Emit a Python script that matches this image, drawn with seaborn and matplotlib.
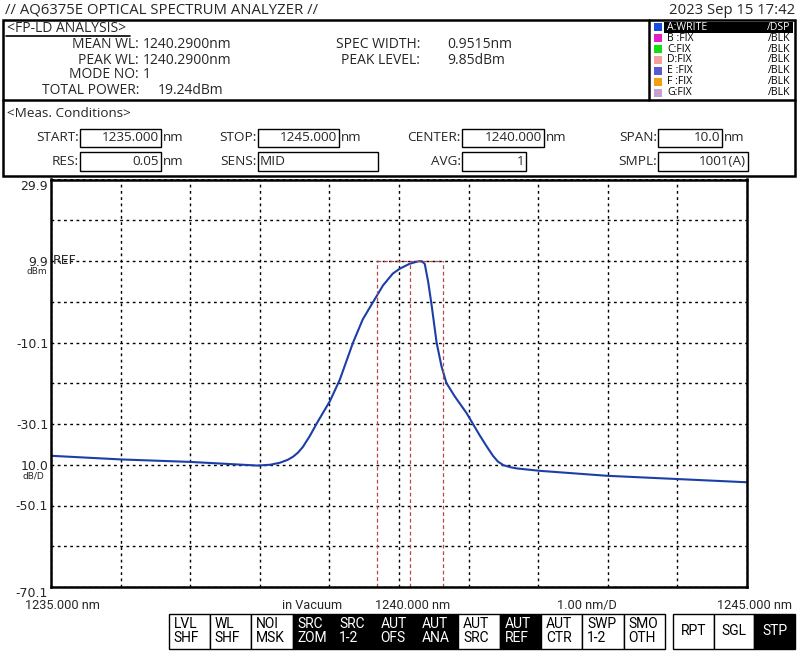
import matplotlib
matplotlib.use("Agg")
import matplotlib.pyplot as plt
from matplotlib.patches import Rectangle
import seaborn as sns

sns.set_style("white")
plt.rcParams["font.family"] = ["Open Sans", "DejaVu Sans"]

# spectrum trace
wl_nm = [1235.00, 1236.01, 1237.00, 1237.86, 1237.97, 1238.15, 1238.29, 1238.40,
         1238.48, 1238.55, 1238.62, 1238.72, 1238.82, 1238.92, 1239.01, 1239.15,
         1239.34, 1239.48, 1239.63, 1239.77, 1239.91, 1240.01, 1240.15, 1240.23,
         1240.29, 1240.33, 1240.37, 1240.42, 1240.47, 1240.54, 1240.61, 1240.68,
         1240.80, 1240.97, 1241.06, 1241.16, 1241.26, 1241.35, 1241.42, 1241.50,
         1241.60, 1241.69, 1242.03, 1242.98, 1243.99, 1245.00]
level_dbm = [-37.9, -38.8, -39.4, -40.2, -40.3, -40.1, -39.6, -38.9,
             -38.1, -37.1, -35.7, -33.0, -29.9, -27.0, -24.4, -19.2,
             -10.1, -4.4, -0.1, 3.9, 6.8, 8.0, 9.2, 9.6,
             9.85, 9.8, 9.2, 4.7, -1.1, -10.1, -15.9, -20.0,
             -23.3, -27.4, -30.0, -32.9, -35.6, -37.9, -39.3, -40.2,
             -40.7, -41.0, -41.6, -42.8, -43.6, -44.4]

# analysis markers
marker_wl = [1239.68, 1240.155, 1240.63]
peak_level = 9.85

# axis scale
x_grid = [1235, 1236, 1237, 1238, 1239, 1240, 1241, 1242, 1243, 1244, 1245]
y_grid = [29.9, 19.9, 9.9, -0.1, -10.1, -20.1, -30.1, -40.1, -50.1, -60.1, -70.1]
y_labels = ["29.9", "", "9.9", "", "-10.1", "", "-30.1", "10.0", "-50.1", "", "-70.1"]

# header texts
fp_labels = ["MEAN WL:", "PEAK WL:", "MODE NO:", "TOTAL POWER:"]
fp_values = ["1240.2900nm", "1240.2900nm", "1", "19.24dBm"]
fp2_labels = ["SPEC WIDTH:", "PEAK LEVEL:"]
fp2_values = ["0.9515nm", "9.85dBm"]

trace_names = ["A:WRITE", "B :FIX", "C:FIX", "D:FIX", "E :FIX", "F :FIX", "G:FIX"]
trace_modes = ["/DSP", "/BLK", "/BLK", "/BLK", "/BLK", "/BLK", "/BLK"]
trace_colors = ["#1450e0", "#e020c0", "#10e010", "#f0a0a0", "#5a5ad0", "#f0a010", "#c8a0d0"]

# label, value, unit, box left, box right, row
meas = [("START:", "1235.000", "nm", 80, 161, 0),
        ("STOP:", "1245.000", "nm", 258, 339, 0),
        ("CENTER:", "1240.000", "nm", 462, 544, 0),
        ("SPAN:", "10.0", "nm", 658, 722, 0),
        ("RES:", "0.05", "nm", 80, 161, 1),
        ("SENS:", "MID", "", 258, 378, 1),
        ("AVG:", "1", "", 462, 526, 1),
        ("SMPL:", "1001(A)", "", 658, 748, 1)]

soft_keys = [("LVL", "SHF"), ("WL", "SHF"), ("NOI", "MSK"), ("SRC", "ZOM"), ("SRC", "1-2"),
             ("AUT", "OFS"), ("AUT", "ANA"), ("AUT", "SRC"), ("AUT", "REF"), ("AUT", "CTR"),
             ("SWP", "1-2"), ("SMO", "OTH")]
soft_active = [False, False, False, True, True, True, True, False, True, False, False, False]
sweep_keys = ["RPT", "SGL", "STP"]
sweep_active = [False, False, True]

narrow = ["Roboto", "DejaVu Sans"]

fig = plt.figure(figsize=(8, 6.51), dpi=100)

# overlay in pixel coordinates for the instrument screen furniture
ov = fig.add_axes([0, 0, 1, 1], zorder=0)
ov.set_xlim(0, 800)
ov.set_ylim(651, 0)
ov.axis("off")

ov.text(5, 10, "// AQ6375E OPTICAL SPECTRUM ANALYZER //", fontsize=10.7, va="center")
ov.text(795, 10, "2023 Sep 15 17:42", fontsize=10.7, va="center", ha="right")

ov.add_patch(Rectangle((3, 19.5), 792, 156, fill=False, lw=1.8, ec="black"))
ov.plot([3, 795], [100, 100], color="black", lw=1.8)
ov.plot([649, 649], [19.5, 100], color="black", lw=1.8)

ov.text(7, 28, "<FP-LD ANALYSIS>", fontsize=10, va="center")
ov.plot([6, 130], [35.5, 35.5], color="black", lw=1.2)
for i, (lab, val) in enumerate(zip(fp_labels, fp_values)):
    y = 45 + 15 * i
    ov.text(139, y, lab, fontsize=10, va="center", ha="right")
    ov.text(158 if i == 3 else 143, y, val, fontsize=10, va="center")
for i, (lab, val) in enumerate(zip(fp2_labels, fp2_values)):
    y = 45 + 15 * i
    ov.text(420, y, lab, fontsize=10, va="center", ha="right")
    ov.text(447, y, val, fontsize=10, va="center")

for i, (name, mode, col) in enumerate(zip(trace_names, trace_modes, trace_colors)):
    y = 27.3 + 10.9 * i
    ov.add_patch(Rectangle((654, y - 4), 8, 8, color=col, lw=0))
    tc = "black"
    if i == 0:
        ov.add_patch(Rectangle((664, y - 5.2), 128.5, 10.4, color="black", lw=0))
        tc = "white"
    ov.text(667, y, name, fontsize=7.6, va="center", color=tc)
    ov.text(790, y, mode, fontsize=7.6, va="center", ha="right", color=tc)

ov.text(7, 113.5, "<Meas. Conditions>", fontsize=9.7, va="center")
for lab, val, unit, x0, x1, row in meas:
    y0 = 128.5 if row == 0 else 152
    yc = y0 + 9.3
    ov.add_patch(Rectangle((x0, y0), x1 - x0, 18.6, fill=False, lw=1.0, ec="black"))
    ov.text(x0 - 1, yc, lab, fontsize=9.7, va="center", ha="right")
    if lab == "SENS:":
        ov.text(x0 + 2, yc, val, fontsize=9.7, va="center")
    else:
        ov.text(x1 - 2, yc, val, fontsize=9.7, va="center", ha="right")
    if unit:
        ov.text(x1 + 2, yc, unit, fontsize=9.7, va="center")

# spectrum display
ax = fig.add_axes([51 / 800, 1 - 587 / 651, 696 / 800, 407.5 / 651], zorder=1)
ax.set_facecolor("white")
sns.lineplot(x=wl_nm, y=level_dbm, ax=ax, color="#1c3ea8", lw=1.5, sort=False)

for w in marker_wl:
    ax.plot([w, w], [y_grid[-1], peak_level], color="#b84848", lw=0.9, ls=(0, (3, 2.2)))
ax.plot([marker_wl[0], marker_wl[-1]], [peak_level, peak_level], color="#b84848", lw=0.9,
        ls=(0, (3, 2.2)))

ax.set_xlim(x_grid[0], x_grid[-1])
ax.set_ylim(y_grid[-1], y_grid[0])
ax.set_xticks(x_grid)
ax.set_xticklabels([])
ax.set_yticks(y_grid)
ax.set_yticklabels(y_labels, fontsize=9, family=["DejaVu Sans"])
ax.tick_params(length=0, pad=2)
yt = ax.get_yticklabels()
yt[0].set_va("top")
yt[-1].set_va("top")
ax.grid(True, color="black", lw=1.0, ls=(0, (2, 2.5)))
for s in ax.spines.values():
    s.set_visible(True)
    s.set_color("black")
    s.set_linewidth(1.8)

ax.text(0.003, 9.9, "REF", fontsize=9, va="center", family=["DejaVu Sans"],
        transform=ax.get_yaxis_transform())
ov.text(47, 272, "dBm", fontsize=6.5, va="center", ha="right", family=["DejaVu Sans"])
ov.text(44, 476, "dB/D", fontsize=6.5, va="center", ha="right", family=["DejaVu Sans"])

ov.text(25, 605.5, "1235.000 nm", fontsize=9.2, va="center", family=narrow)
ov.text(282, 605.5, "in Vacuum", fontsize=9.2, va="center", family=narrow)
ov.text(375, 605.5, "1240.000 nm", fontsize=9.2, va="center", family=narrow)
ov.text(557, 605.5, "1.00 nm/D", fontsize=9.2, va="center", family=narrow)
ov.text(792, 605.5, "1245.000 nm", fontsize=9.2, va="center", ha="right", family=narrow)

# soft keys
kw = (665 - 168.5) / len(soft_keys)
for i, ((t1, t2), on) in enumerate(zip(soft_keys, soft_active)):
    x0 = 168.5 + kw * i
    ov.add_patch(Rectangle((x0, 613.5), kw, 35.5, fc="black" if on else "white",
                           ec="black", lw=1.0))
    tc = "white" if on else "black"
    ov.text(x0 + 5, 624, t1, fontsize=10, va="center", color=tc, family=narrow)
    ov.text(x0 + 5, 638, t2, fontsize=10, va="center", color=tc, family=narrow)
sw = (795 - 673) / len(sweep_keys)
for i, (t, on) in enumerate(zip(sweep_keys, sweep_active)):
    x0 = 673 + sw * i
    ov.add_patch(Rectangle((x0, 613.5), sw, 35.5, fc="black" if on else "white",
                           ec="black", lw=1.0))
    ov.text(x0 + sw / 2, 631, t, fontsize=10, va="center", ha="center",
            color="white" if on else "black", family=narrow)

fig.savefig("out.png", dpi=100)
